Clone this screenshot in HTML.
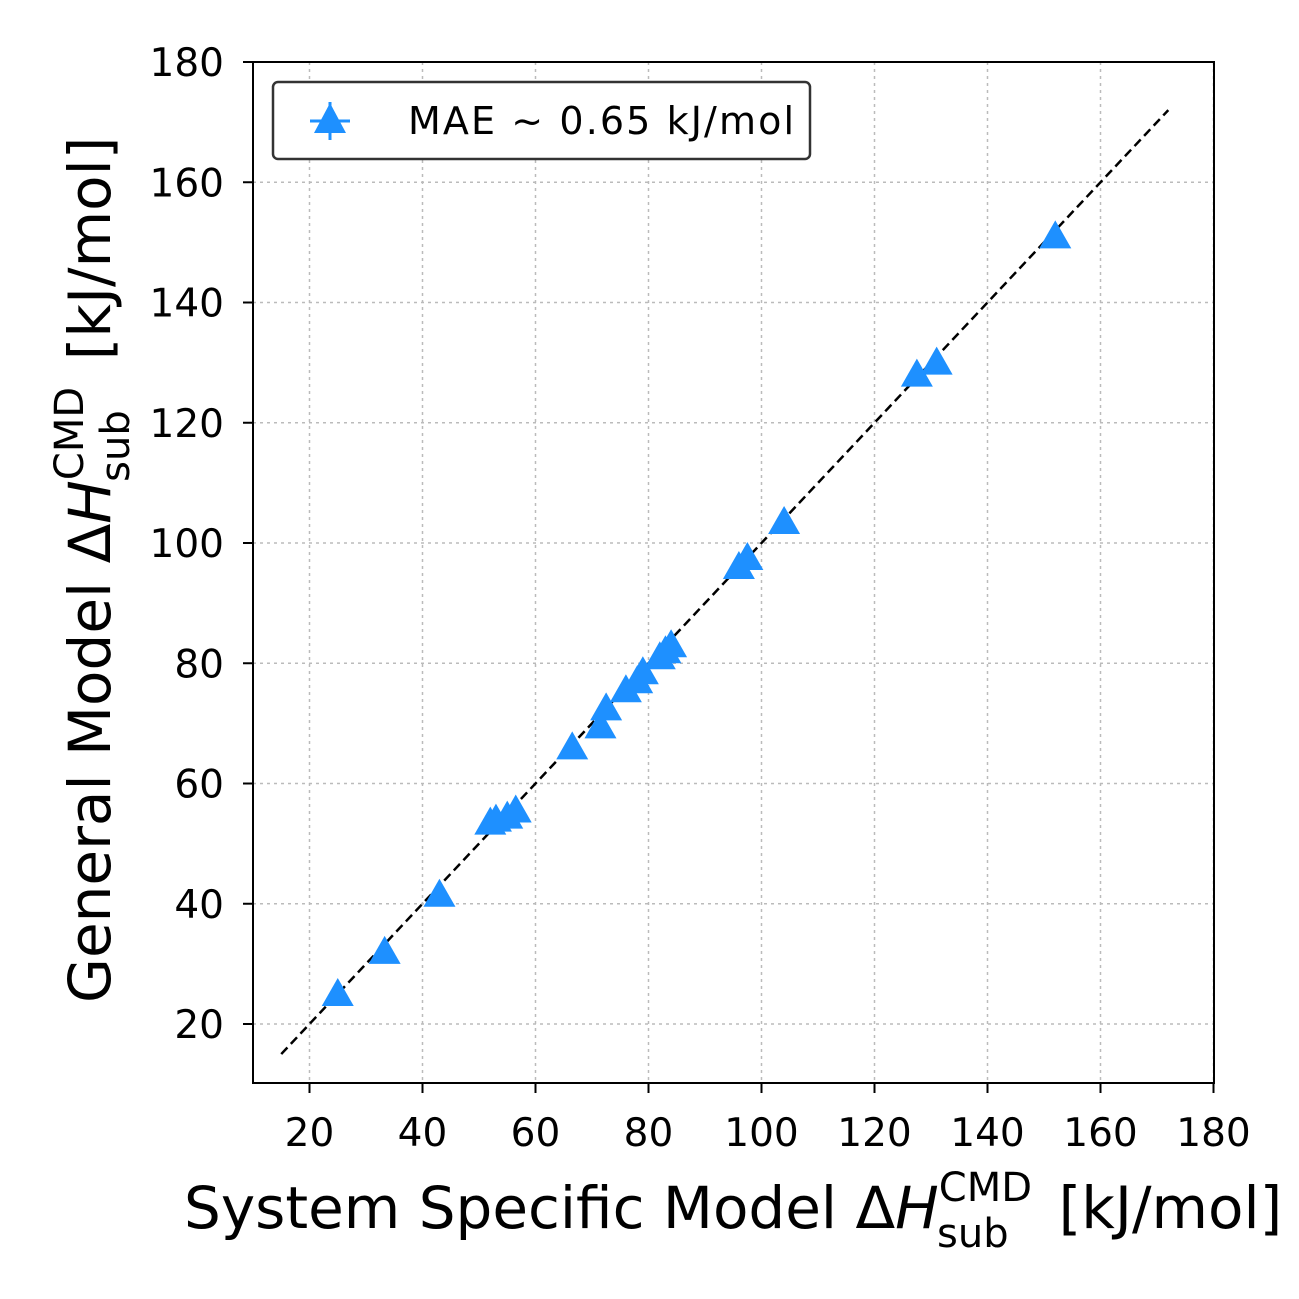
<!DOCTYPE html>
<html><head><meta charset="utf-8"><style>body{margin:0;background:#fff}svg{display:block;font-family:"DejaVu Sans","Liberation Sans",sans-serif}</style></head>
<body>
<svg id="chart" width="1299" height="1299" viewBox="0 0 1299 1299">
<g id="grid"></g>
<line id="parity" stroke="#000" stroke-width="2.5" stroke-dasharray="9,5"/>
<g id="points"></g>
<rect x="253" y="62" width="961" height="1021" fill="none" stroke="#000" stroke-width="2"/>
<g id="ticks"></g>
<g>
<rect x="273" y="82" width="537" height="77" rx="5" fill="#fff" stroke="#333" stroke-width="2.5"/>
<polygon points="330,103 346,133 314,133" fill="#1e90ff"/>
<line x1="310" y1="121" x2="350" y2="121" stroke="#1e90ff" stroke-width="3"/>
<line x1="330" y1="102" x2="330" y2="140" stroke="#1e90ff" stroke-width="3"/>
<text x="408" y="134" font-size="38" textLength="386">MAE  ~ 0.65 kJ/mol</text>
</g>
<text x="184" y="1228" font-size="58">System Specific Model Δ<tspan font-style="italic">H</tspan><tspan font-size="40" dy="-27">CMD</tspan><tspan font-size="40" dx="-95" dy="46">sub</tspan><tspan dx="50" dy="-19">[kJ/mol]</tspan></text>
<text transform="translate(110,1003) rotate(-90)" font-size="58">General Model Δ<tspan font-style="italic">H</tspan><tspan font-size="40" dy="-27">CMD</tspan><tspan font-size="40" dx="-95" dy="46">sub</tspan><tspan dx="50" dy="-19">[kJ/mol]</tspan></text>
</svg>
<script>
const xTicks=[20,40,60,80,100,120,140,160,180];
const yTicks=[20,40,60,80,100,120,140,160,180];
const xs=[25,33.3,43,52,53,55,56.5,66.5,71.5,72.5,76,78,79,82,83,84,96,97.5,104,127.5,131,152];
const ys=[25,32,41.5,53.5,54,54.5,55.5,66,69.5,72.5,75.5,77,78.5,81,82,83,96,97.5,103.5,128,130,151];
const lineRange=[15,172];
const X=v=>253+(v-10)*5.65, Y=v=>1024-(v-20)*6.0125;
const NS="http://www.w3.org/2000/svg";
const grid=document.getElementById('grid'),ticks=document.getElementById('ticks'),pts=document.getElementById('points');
function mk(tag,attrs,parent){const e=document.createElementNS(NS,tag);for(const k in attrs)e.setAttribute(k,attrs[k]);parent.appendChild(e);return e;}
xTicks.forEach(t=>{
 const g=mk('line',{x1:X(t),x2:X(t),y1:62,y2:1083,stroke:'#bbb','stroke-width':1.5,'stroke-dasharray':'3,4'},grid);
 
 
 mk('line',{x1:X(t),x2:X(t),y1:1083,y2:1093,stroke:'#000','stroke-width':2},ticks);
 const tx=mk('text',{x:X(t),y:1146,'font-size':39,'text-anchor':'middle'},ticks);tx.textContent=t;
 
 
});
yTicks.forEach(t=>{
 const g=mk('line',{x1:253,x2:1214,y1:Y(t),y2:Y(t),stroke:'#bbb','stroke-width':1.5,'stroke-dasharray':'3,4'},grid);
 
 
 mk('line',{x1:243,x2:253,y1:Y(t),y2:Y(t),stroke:'#000','stroke-width':2},ticks);
 const tx=mk('text',{x:224,y:Y(t)+14,'font-size':39,'text-anchor':'end'},ticks);tx.textContent=t;
 
 
});
const pl=document.getElementById('parity');
pl.setAttribute('x1',X(lineRange[0]));pl.setAttribute('y1',Y(lineRange[0]));
pl.setAttribute('x2',X(lineRange[1]));pl.setAttribute('y2',Y(lineRange[1]));
xs.forEach((v,i)=>{
 const cx=X(v),cy=Y(ys[i]);
 const p=mk('polygon',{points:`${cx},${cy-16} ${cx+16},${cy+12} ${cx-16},${cy+12}`,fill:'#1e90ff'},pts);
 
 
});
</script>
</body></html>
